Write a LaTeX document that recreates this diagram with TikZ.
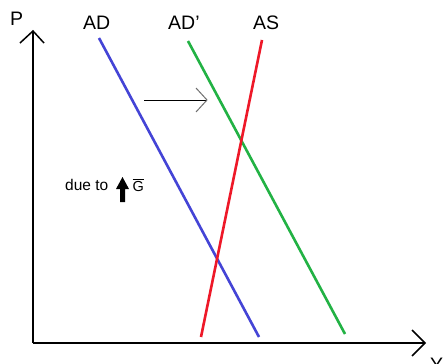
\documentclass[tikz,border=0pt]{standalone}
\usepackage{fontspec}
\setmainfont{Liberation Sans}
\definecolor{adblue}{RGB}{68,68,214}
\definecolor{adgreen}{RGB}{34,178,68}
\definecolor{asred}{RGB}{238,24,40}
\definecolor{headgray}{RGB}{110,110,110}
\begin{document}
\begin{tikzpicture}[x=1pt,y=-1pt,
  axisline/.style={line width=2pt,line cap=butt},
  curveline/.style={line width=2.6pt},
  biglabel/.style={inner sep=0pt,font=\fontsize{19.5}{22}\selectfont},
  smalllabel/.style={inner sep=0pt,font=\fontsize{15.5}{18}\selectfont}]
\useasboundingbox (0,0) rectangle (445,364);
\fill[white] (0,0) rectangle (445,364);

% axes
\coordinate (origin) at (33,343);
\coordinate (ptop) at (33,31);
\coordinate (yend) at (425,343);
\draw[axisline] (origin) -- (ptop);
\draw[axisline] (origin) -- (yend);
\draw[line width=1.5pt] (20,43) -- (ptop) -- (44,43);
\draw[line width=1.5pt] (412,330) -- (yend) -- (412,356);

% curves
\coordinate (ad1) at (99,38);   \coordinate (ad2) at (259,337);
\coordinate (adp1) at (188,41); \coordinate (adp2) at (345,334);
\coordinate (as1) at (262,40);  \coordinate (as2) at (201,337);
\draw[curveline,adblue] (ad1) -- (ad2);
\draw[curveline,adgreen] (adp1) -- (adp2);
\draw[curveline,asred] (as1) -- (as2);

% shift arrow
\coordinate (sh1) at (144,100);
\coordinate (sh2) at (207,100);
\draw[line width=1pt] (sh1) -- (sh2);
\draw[line width=1pt,headgray] (196,88) -- (sh2) -- (196,112);

% labels
\node[biglabel,anchor=base west] (lp) at (10,26) {P};
\node[biglabel,anchor=base west] (lad) at (83,29) {AD};
\node[biglabel,anchor=base west] (ladp) at (168,30) {AD\char"0027};
\node[biglabel,anchor=base west] (las) at (253,30) {AS};
\node[biglabel,anchor=north west] (ly) at (430,358) {Y};

% cause
\node[smalllabel,anchor=base west] (due) at (65,190) {due to};
\fill (122.5,177) -- (129,189) -- (125,189) -- (125,202) -- (120,202) -- (120,189) -- (116,189) -- cycle;
\node[inner sep=0pt,anchor=base west,font=\fontsize{14.5}{16}\selectfont] (lg) at (132.5,191) {G};
\draw[line width=1pt] (lg.west |- 0,179) -- (lg.east |- 0,179);
\end{tikzpicture}
\end{document}
